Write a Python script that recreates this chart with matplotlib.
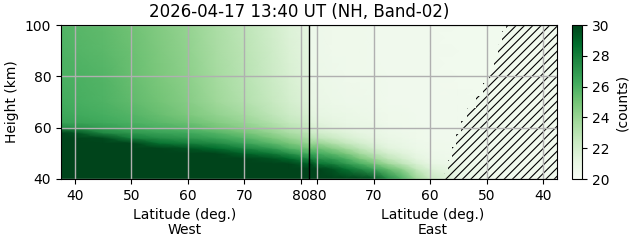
import numpy as np
import matplotlib
matplotlib.use("Agg")
import matplotlib.pyplot as plt

# heights (km) of the table rows
heights = [40, 44, 46, 48, 50, 52, 54, 56, 58, 60, 62, 65, 70, 80, 90, 100]

# West half: latitude columns and counts (one list per column, bottom -> top)
west_lat = [37.5, 40, 45, 50, 55, 60, 65, 70, 75, 78, 81.5]
west_counts = [
    [31, 31, 31, 31, 31, 31, 31, 31, 30.0, 27.5, 26.6, 26.4, 26.2, 26.0, 25.9, 25.8],
    [31, 31, 31, 31, 31, 31, 31, 30.8, 29.5, 27.3, 26.6, 26.3, 26.1, 26.0, 25.8, 25.7],
    [31, 31, 31, 31, 31, 31, 31, 29.8, 27.6, 26.8, 26.3, 26.1, 25.9, 25.8, 25.6, 25.5],
    [31, 31, 31, 31, 31, 31, 30.0, 28.0, 27.0, 26.4, 26.0, 25.8, 25.5, 25.3, 25.2, 25.1],
    [31, 31, 31, 31, 31, 30.5, 28.5, 27.4, 26.6, 26.0, 25.6, 25.3, 25.0, 24.8, 24.7, 24.6],
    [31, 31, 31, 31, 31, 29.5, 28.0, 27.0, 26.3, 25.7, 25.2, 24.8, 24.5, 24.3, 24.2, 24.1],
    [31, 31, 31, 31, 30.5, 28.7, 27.5, 26.5, 25.8, 25.0, 24.6, 24.2, 23.8, 23.6, 23.5, 23.4],
    [31, 31, 31, 31, 29.0, 27.8, 26.6, 25.8, 25.0, 24.4, 24.0, 23.6, 23.2, 23.0, 22.9, 22.8],
    [31, 31, 31, 29.5, 28.2, 26.8, 25.6, 24.8, 24.1, 23.6, 23.2, 22.8, 22.5, 22.3, 22.2, 22.1],
    [31, 31, 30.5, 28.8, 27.3, 25.8, 24.9, 24.1, 23.4, 23.0, 22.6, 22.3, 22.0, 21.8, 21.7, 21.6],
    [31, 30.5, 29.0, 27.5, 26.0, 25.0, 24.0, 23.4, 22.9, 22.5, 22.2, 21.9, 21.6, 21.4, 21.3, 21.2],
]

# East half
east_lat = [81.5, 80, 77.5, 75, 72.5, 70, 67.5, 65, 62.5, 60, 55, 50, 45, 37.5]
east_counts = [
    [31, 31, 30.0, 28.0, 26.5, 25.0, 23.8, 23.0, 22.3, 21.9, 21.6, 21.3, 21.0, 20.8, 20.7, 20.7],
    [31, 30.0, 28.5, 27.3, 26.2, 25.2, 24.0, 22.8, 22.1, 21.7, 21.4, 21.1, 20.9, 20.8, 20.7, 20.7],
    [31, 29.5, 28.0, 26.8, 25.6, 24.5, 23.3, 22.4, 21.8, 21.4, 21.2, 21.0, 20.8, 20.7, 20.6, 20.6],
    [31, 28.5, 27.0, 26.0, 24.8, 23.7, 22.6, 21.9, 21.5, 21.2, 21.0, 20.9, 20.7, 20.6, 20.6, 20.6],
    [30.5, 27.5, 26.0, 24.8, 23.7, 22.8, 22.0, 21.5, 21.2, 21.0, 20.9, 20.8, 20.7, 20.6, 20.6, 20.6],
    [29.5, 26.5, 25.0, 23.8, 22.8, 22.0, 21.5, 21.2, 21.0, 20.9, 20.8, 20.7, 20.6, 20.6, 20.5, 20.5],
    [27.5, 25.3, 23.8, 22.7, 22.0, 21.4, 21.1, 20.9, 20.8, 20.7, 20.6, 20.6, 20.5, 20.5, 20.5, 20.5],
    [26.0, 24.2, 22.8, 22.0, 21.5, 21.1, 20.9, 20.8, 20.7, 20.6, 20.6, 20.6, 20.5, 20.5, 20.5, 20.5],
    [24.0, 22.6, 21.8, 21.3, 21.0, 20.8, 20.7, 20.6, 20.6, 20.6, 20.5, 20.5, 20.5, 20.5, 20.5, 20.5],
    [22.5, 21.6, 21.1, 20.8, 20.7, 20.6, 20.6, 20.5, 20.5, 20.5, 20.5, 20.5, 20.5, 20.5, 20.5, 20.5],
    [21.0, 20.8, 20.6, 20.5, 20.5, 20.5, 20.5, 20.5, 20.5, 20.5, 20.5, 20.5, 20.5, 20.4, 20.4, 20.4],
    [20.5, 20.5, 20.5, 20.5, 20.5, 20.5, 20.5, 20.5, 20.5, 20.4, 20.4, 20.4, 20.4, 20.4, 20.4, 20.4],
    [20.4, 20.4, 20.4, 20.4, 20.4, 20.4, 20.4, 20.4, 20.4, 20.4, 20.4, 20.4, 20.4, 20.4, 20.4, 20.4],
    [20.4, 20.4, 20.4, 20.4, 20.4, 20.4, 20.4, 20.4, 20.4, 20.4, 20.4, 20.4, 20.4, 20.4, 20.4, 20.4],
]

# edge of the hatched (no data) area on the East side
hatch_height = [40, 45, 50, 55, 60, 65, 70, 75, 80, 85, 90, 95, 100]
hatch_lat = [57.6, 56.9, 56.2, 55.5, 54.6, 53.4, 51.9, 50.6, 49.5, 48.6, 48.0, 47.3, 46.5]

tick_lat = [40, 50, 60, 70, 80]


# one shared x axis: West runs 37.5 -> 81.5, East runs 81.5 -> 37.5
def west_x(lat):
    return np.asarray(lat, dtype=float) - 37.5


def east_x(lat):
    return 45.5 + 80.0 - np.asarray(lat, dtype=float)


plt.rcParams["hatch.linewidth"] = 0.8

fig = plt.figure(figsize=(6.31, 2.43), dpi=100)
ax = fig.add_axes([61 / 631, 64 / 243, 496 / 631, 154 / 243])
cax = fig.add_axes([572 / 631, 64 / 243, 10 / 631, 154 / 243])

wx, wy = np.meshgrid(west_x(west_lat), heights)
mesh = ax.pcolormesh(wx, wy, np.array(west_counts).T, shading="gouraud",
                     cmap="Greens", vmin=20, vmax=30)
ex, ey = np.meshgrid(east_x(east_lat), heights)
ax.pcolormesh(ex, ey, np.array(east_counts).T, shading="gouraud",
              cmap="Greens", vmin=20, vmax=30)

# no-data area, hatched (4 slashes -> ~8 px line spacing at 100 dpi)
ax.fill_betweenx(hatch_height, east_x(hatch_lat), east_x(37.5), step="mid",
                 facecolor="none", edgecolor="black", linewidth=0, hatch="////")

ax.axvline(44.0, color="black", linewidth=1.0, zorder=3)

ax.set_xlim(0, 88)
ax.set_ylim(40, 100)
ax.set_xticks(list(west_x(tick_lat)) + list(east_x(tick_lat)))
ax.set_xticklabels([str(t) for t in tick_lat] + [str(t) for t in tick_lat])
ax.set_yticks([40, 60, 80, 100])
ax.set_ylabel("Height (km)")
ax.grid(True, color="#b0b0b0", linewidth=1.0)

ax.text(0.25, -0.19, "Latitude (deg.)\nWest", transform=ax.transAxes,
        ha="center", va="top", fontsize=10, linespacing=1.1)
ax.text(0.75, -0.19, "Latitude (deg.)\nEast", transform=ax.transAxes,
        ha="center", va="top", fontsize=10, linespacing=1.1)

fig.text(299.5 / 631, 1 - 12 / 243, "2026-04-17 13:40 UT (NH, Band-02)",
         ha="center", va="center", fontsize=12)

cb = fig.colorbar(mesh, cax=cax, ticks=[20, 22, 24, 26, 28, 30])
cb.set_label("(counts)")

fig.savefig("out.png", dpi=100)
